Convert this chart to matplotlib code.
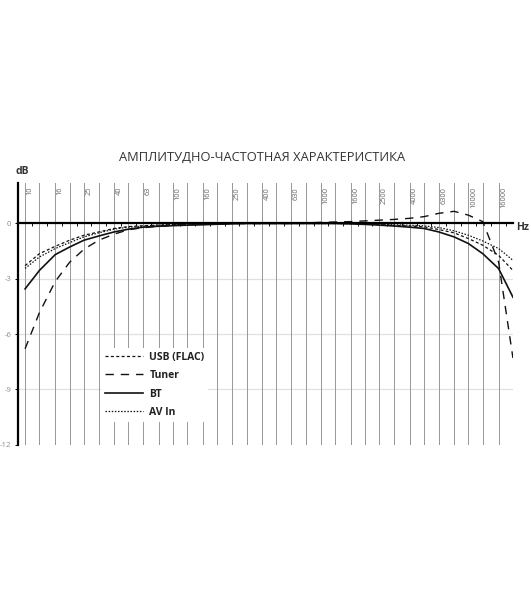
import matplotlib
matplotlib.use("Agg")
import matplotlib.pyplot as plt
import matplotlib.transforms as mtransforms
from matplotlib.ticker import FixedLocator, NullFormatter
import numpy as np

# ---- data ----
freqs = [10, 12.5, 16, 20, 25, 31.5, 40, 50, 63, 80, 100, 125, 160, 200, 250, 315,
         400, 500, 630, 800, 1000, 1250, 1600, 2000, 2500, 3150, 4000, 5000, 6300,
         8000, 10000, 12500, 16000, 20000]
freq_labels = ["10", "16", "25", "40", "63", "100", "160", "250", "400", "630", "1000",
               "1600", "2500", "4000", "6300", "10000", "16000"]
freq_label_pos = [10, 16, 25, 40, 63, 100, 160, 250, 400, 630, 1000, 1600, 2500, 4000,
                  6300, 10000, 16000]

usb_flac = [-2.29, -1.64, -1.24, -0.91, -0.64, -0.46, -0.27, -0.17, -0.12, -0.09, -0.06,
            -0.04, -0.02, -0.01, 0, 0, 0, 0, 0, 0, 0, 0, -0.01, -0.03, -0.06, -0.10,
            -0.14, -0.18, -0.33, -0.51, -0.82, -1.18, -1.73, -2.55]
tuner = [-6.80, -4.84, -3.15, -2.11, -1.40, -0.91, -0.58, -0.34, -0.23, -0.15, -0.10,
         -0.07, -0.04, -0.02, 0, 0, 0, 0, 0, 0.03, 0.06, 0.08, 0.10, 0.14, 0.18, 0.22,
         0.28, 0.37, 0.55, 0.66, 0.45, 0.10, -2.10, -7.30]
bt = [-3.55, -2.55, -1.69, -1.28, -0.91, -0.68, -0.46, -0.31, -0.20, -0.15, -0.12,
      -0.09, -0.07, -0.04, -0.02, 0, 0, 0, 0, 0, 0, 0, -0.02, -0.05, -0.09, -0.14,
      -0.20, -0.27, -0.46, -0.73, -1.09, -1.64, -2.45, -4.00]
av_in = [-2.44, -1.82, -1.36, -1.04, -0.73, -0.51, -0.31, -0.20, -0.15, -0.09, -0.06,
         -0.04, -0.02, -0.01, 0, 0, 0, 0, 0, 0, 0, 0, -0.01, -0.02, -0.04, -0.07,
         -0.10, -0.13, -0.22, -0.40, -0.64, -0.95, -1.36, -2.00]

y_ticks = [-12, -9, -6, -3, 0]
y_tick_labels = ["-12", "-9", "-6", "-3", "0"]
series_names = ["USB (FLAC)", "Tuner", "BT", "AV In"]
title = "АМПЛИТУДНО-ЧАСТОТНАЯ ХАРАКТЕРИСТИКА"

# ---- figure ----
plt.rcParams['font.family'] = ['Open Sans', 'DejaVu Sans']
fig = plt.figure(figsize=(5.31, 6.0), dpi=100)
ax = fig.add_axes([0.033, 0.259, 0.933, 0.4355])
ax.set_xscale('log')
x_left = 8.89
ax.set_xlim(x_left, 20000)
ax.set_ylim(-12, 2.18)

for f in freqs:
    ax.axvline(f, color='#979797', lw=0.7, zorder=1)
for yv in [-3, -6, -9]:
    ax.axhline(yv, color='#e0e0e0', lw=0.9, zorder=0.5)

ink = '#111111'
ax.plot(freqs, usb_flac, color=ink, lw=0.9, dashes=(2.4, 1.9), label=series_names[0], zorder=3)
ax.plot(freqs, tuner, color=ink, lw=1.0, dashes=(6, 5), label=series_names[1], zorder=3)
ax.plot(freqs, bt, color=ink, lw=1.2, label=series_names[2], zorder=3)
ax.plot(freqs, av_in, color=ink, lw=0.9, dashes=(1.2, 1.3), label=series_names[3], zorder=3)

# spines
for s in ['top', 'right']:
    ax.spines[s].set_visible(False)
ax.spines['bottom'].set_position(('data', 0))
ax.spines['bottom'].set_linewidth(1.6)
ax.spines['bottom'].set_zorder(4)
ax.spines['left'].set_linewidth(1.6)

mids = [np.sqrt(a * b) for a, b in zip(freqs[:-1], freqs[1:])]
ax.xaxis.set_major_locator(FixedLocator([]))
ax.xaxis.set_minor_locator(FixedLocator(mids))
ax.xaxis.set_major_formatter(NullFormatter())
ax.xaxis.set_minor_formatter(NullFormatter())
ax.tick_params(axis='x', which='minor', length=2.5, width=0.7, direction='out', color=ink)

ax.set_yticks(y_ticks)
ax.set_yticklabels(y_tick_labels)
ax.tick_params(axis='y', length=2.5, width=0.7, pad=2, labelsize=5.5, labelcolor='#8a8a8a')

# frequency labels at top
trans = mtransforms.offset_copy(ax.get_xaxis_transform(), fig=fig, x=3.6, y=-2.6, units='points')
for f, lab in zip(freq_label_pos, freq_labels):
    ax.text(f, 1.0, lab, transform=trans, rotation=90, ha='center', va='top',
            fontsize=5.3, color='#666666')

leg = ax.legend(loc='upper left', bbox_to_anchor=(101 / 531, 1 - 348 / 600),
                bbox_transform=fig.transFigure, frameon=True, fancybox=False,
                handlelength=3.7, handletextpad=0.6, labelspacing=0.72,
                borderpad=0.35, borderaxespad=0, prop={'weight': 'bold', 'size': 7.5})
leg.get_frame().set_facecolor('white')
leg.get_frame().set_edgecolor('none')
leg.get_frame().set_alpha(1)
for t in leg.get_texts():
    t.set_color('#222222')
leg.set_zorder(5)

fig.text(16 / 531, 1 - 172 / 600, "dB", fontsize=7.5, fontweight='bold', color='#333333',
         ha='left', va='center')
fig.text(516 / 531, 1 - 228 / 600, "Hz", fontsize=7.5, fontweight='bold', color='#333333',
         ha='left', va='center')
fig.text(262.5 / 531, 1 - 157 / 600, title, fontsize=9.3, color='#333333',
         ha='center', va='center')

fig.savefig("out.png", dpi=100)
